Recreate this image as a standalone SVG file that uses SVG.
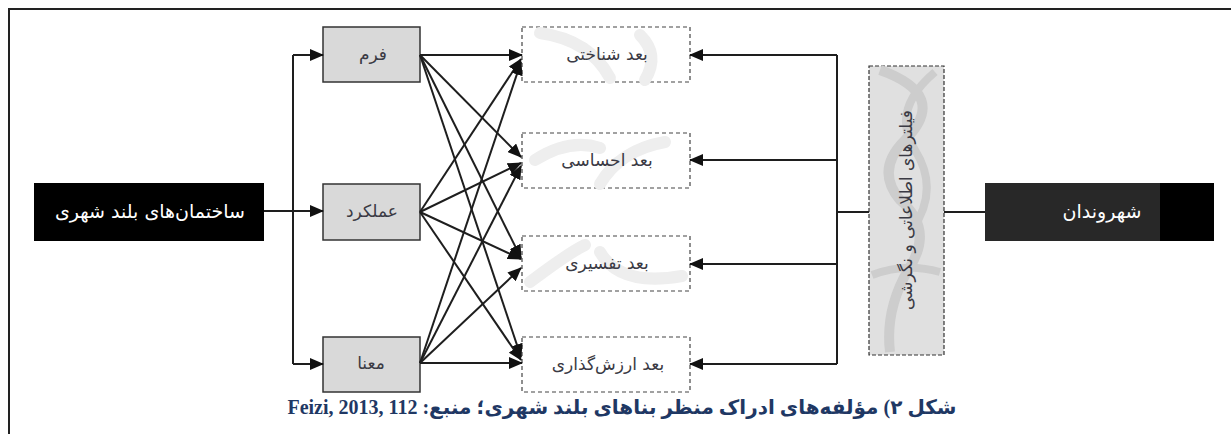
<svg xmlns="http://www.w3.org/2000/svg" width="1231" height="434" viewBox="0 0 1231 434">
<style>
.frame{fill:none;stroke:#222;stroke-width:2}
.gbox{fill:#d9d9d9;stroke:#333;stroke-width:1.5}
.dbox{fill:#fff;stroke:#444;stroke-width:1.2;stroke-dasharray:4 3}
.lbl{font-family:"DejaVu Sans",sans-serif;font-size:17px;fill:#3a3a44;text-anchor:middle}
.wlbl{font-family:"DejaVu Sans",sans-serif;font-size:19px;fill:#fff;text-anchor:middle}
.ln{fill:none;stroke:#1e1e1e;stroke-width:2}
.ln2{fill:none;stroke:#1e1e1e;stroke-width:2}
.wm{fill:none;stroke:#eeeeee;stroke-width:12;stroke-linecap:round}
</style>
<defs>
<marker id="ah" markerUnits="userSpaceOnUse" markerWidth="14" markerHeight="12" refX="13" refY="6" orient="auto">
<path d="M0,0 L14,6 L0,12 Z" fill="#111"/>
</marker>
</defs>
<rect width="1231" height="434" fill="#fff"/>
<path class="frame" d="M9,434 V9 H1231"/>

<g id="buildings">
<rect x="34" y="183" width="230" height="58" fill="#000"/>
<text class="wlbl" x="150" y="218" direction="rtl">ساختمان‌های بلند شهری</text>
</g>

<g id="form">
<rect class="gbox" x="323" y="27" width="97" height="55"/>
<text class="lbl" x="373" y="60" direction="rtl">فرم</text>
</g>
<g id="function">
<rect class="gbox" x="323" y="184" width="97" height="56"/>
<text class="lbl" x="372" y="217" direction="rtl">عملکرد</text>
</g>
<g id="meaning">
<rect class="gbox" x="323" y="337" width="97" height="55"/>
<text class="lbl" x="371" y="369" direction="rtl">معنا</text>
</g>

<g id="cognitive">
<rect class="dbox" x="522" y="27" width="168" height="55"/>
<path class="wm" d="M540,33 Q590,40 610,78 M640,35 Q660,55 645,80"/>
<text class="lbl" x="607" y="60" direction="rtl">بعد شناختی</text>
</g>
<g id="emotional">
<rect class="dbox" x="522" y="133" width="168" height="55"/>
<path class="wm" d="M535,160 Q570,138 600,148 M600,184 Q620,150 665,142"/>
<text class="lbl" x="607" y="166" direction="rtl">بعد احساسی</text>
</g>
<g id="interpretive">
<rect class="dbox" x="522" y="236" width="168" height="55"/>
<path class="wm" d="M530,282 Q570,252 585,245 M600,252 Q620,287 682,276"/>
<text class="lbl" x="607" y="269" direction="rtl">بعد تفسیری</text>
</g>
<g id="evaluative">
<rect class="dbox" x="522" y="337" width="168" height="55"/>
<text class="lbl" x="608" y="370" direction="rtl">بعد ارزش‌گذاری</text>
</g>

<g id="filters">
<rect x="869" y="66" width="75" height="289" fill="#e0e0e0" stroke="#333" stroke-width="1.2" style="stroke-dasharray:4 2"/>
<path d="M880,70 Q950,95 905,140 Q875,170 900,200 Q935,230 908,270 Q885,310 890,352" fill="none" stroke="#cdcdcd" stroke-width="10"/>
<path d="M935,72 Q890,110 915,150 Q940,190 912,230 M872,275 Q905,262 940,272" fill="none" stroke="#cdcdcd" stroke-width="8"/>
<text class="lbl" font-size="16" transform="translate(906,210) rotate(-90)" x="0" y="6" direction="rtl">فیلترهای اطلاعاتی و نگرشی</text>
</g>

<g id="citizens">
<rect x="985" y="183" width="229" height="58" fill="#282828"/>
<rect x="1160" y="183" width="54" height="58" fill="#000"/>
<text class="wlbl" x="1102" y="218" font-size="18" direction="rtl">شهروندان</text>
</g>

<g id="connectors">
<path class="ln" d="M264,211 H293 M293,55 V364"/>
<path class="ln" d="M293,55 H323" marker-end="url(#ah)"/>
<path class="ln" d="M293,211 H323" marker-end="url(#ah)"/>
<path class="ln" d="M293,364 H323" marker-end="url(#ah)"/>

<path class="ln2" d="M420,55 L522,55" marker-end="url(#ah)"/>
<path class="ln2" d="M420,55 L521,157" marker-end="url(#ah)"/>
<path class="ln2" d="M420,55 L521,258" marker-end="url(#ah)"/>
<path class="ln2" d="M420,55 L521,357" marker-end="url(#ah)"/>
<path class="ln2" d="M420,212 L521,59" marker-end="url(#ah)"/>
<path class="ln2" d="M420,212 L521,163" marker-end="url(#ah)"/>
<path class="ln2" d="M420,212 L521,259" marker-end="url(#ah)"/>
<path class="ln2" d="M420,212 L521,360" marker-end="url(#ah)"/>
<path class="ln2" d="M420,363 L521,62" marker-end="url(#ah)"/>
<path class="ln2" d="M420,363 L521,166" marker-end="url(#ah)"/>
<path class="ln2" d="M420,363 L521,268" marker-end="url(#ah)"/>
<path class="ln2" d="M420,363 L522,363" marker-end="url(#ah)"/>

<path class="ln2" d="M837,55 V364 M837,212 H869 M944,212 H985"/>
<path class="ln2" d="M837,55 H690" marker-end="url(#ah)"/>
<path class="ln2" d="M837,160 H690" marker-end="url(#ah)"/>
<path class="ln2" d="M837,264 H690" marker-end="url(#ah)"/>
<path class="ln2" d="M837,364 H690" marker-end="url(#ah)"/>
</g>

<text x="622" y="414" font-family="'Liberation Serif','DejaVu Sans',serif" font-weight="bold" font-size="20" fill="#1f3864" text-anchor="middle" direction="rtl">شکل ۲) مؤلفه‌های ادراک منظر بناهای بلند شهری؛ منبع: Feizi, 2013, 112</text>
</svg>
